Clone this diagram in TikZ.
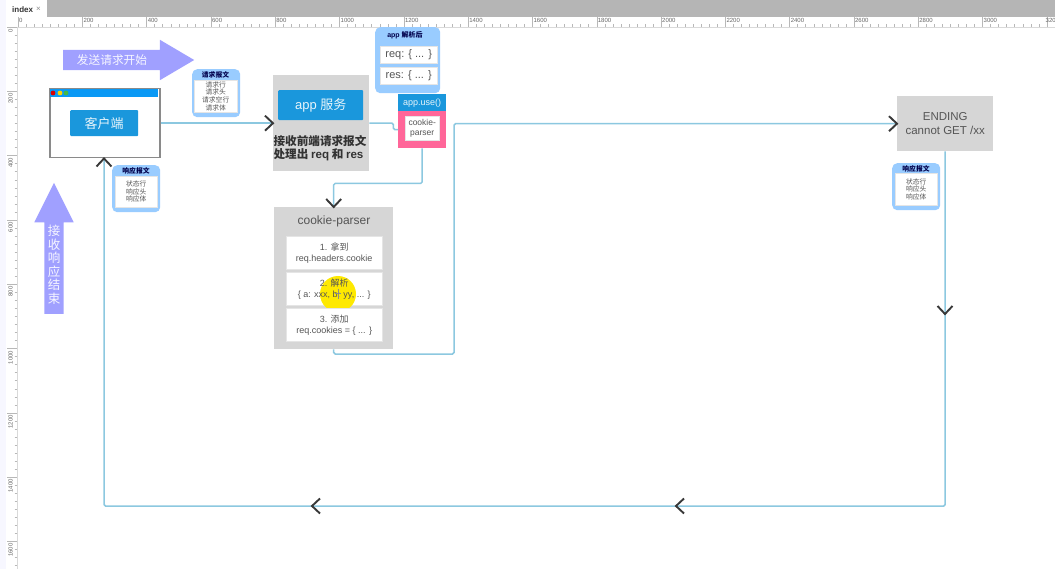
\documentclass[tikz,border=0pt]{standalone}
\usepackage{fontspec}
\setmainfont{Liberation Sans}
\newfontfamily\cjk{Noto Sans CJK SC}
\usetikzlibrary{shapes.arrows}
\definecolor{flowblue}{HTML}{8CC8E0}
\definecolor{btnblue}{HTML}{1A97DC}
\definecolor{barblue}{HTML}{0A99F5}
\definecolor{panelgray}{HTML}{D6D6D6}
\definecolor{cardblue}{HTML}{99CCFF}
\definecolor{bigarrow}{HTML}{A0A0FF}
\definecolor{pinkbox}{HTML}{FF6699}
\definecolor{textgray}{HTML}{555555}
\definecolor{rulergray}{HTML}{B8B8B8}
\definecolor{framegray}{HTML}{8A8A8A}
\newcommand{\fsz}[1]{\fontsize{#1}{#1}\selectfont}
\tikzset{
    panel/.style = {fill=panelgray, inner sep=0pt, anchor=north west},
    btn/.style = {fill=btnblue, rounded corners=1pt, text=white!90!btnblue, inner sep=0pt, anchor=north west, align=center},
    card/.style = {fill=cardblue, rounded corners=5pt, inner sep=0pt, anchor=north west},
    paper/.style = {fill=white, draw=black!10, line width=0.4pt, inner sep=0pt, anchor=north west, align=center, text=textgray},
    flow/.style = {draw=flowblue, line width=1.5pt, rounded corners=1.5pt},
    bigarr/.style = {single arrow, fill=bigarrow, inner xsep=0pt, text height=0pt, text depth=0pt, anchor=tail},
    chev/.pic = {\draw[black!78, line width=1.9pt] (-8,-7.5) -- (0,0) -- (-8,7.5);},
    tick/.style = {draw=rulergray, line width=0.4pt},
    rulertext/.style = {text=black!60, inner sep=0pt, font=\fsz{6}}
}
\begin{document}
\begin{tikzpicture}[x=1pt, y=-1pt]
    \useasboundingbox (0,0) rectangle (1055,569);
    \fill[white] (0,0) rectangle (1055,569);

    % window strip and rulers
    \fill[blue!3] (0,0) rectangle (6,569);
    \fill[black!29] (47,0) rectangle (1055,17);
    \node[anchor=west, inner sep=0pt, text=black!80, font=\fsz{8}\bfseries] (tabname) at (12,9.5) {index};
    \node[anchor=west, inner sep=0pt, text=black!45, font=\fsz{8}] (tabclose) at (36,9.5) {×};
    \draw[black!15] (17,27) -- (1055,27);
    \draw[black!15] (17,27) -- (17,569);
    \foreach \i in {0,...,15} {
        \pgfmathsetmacro{\xx}{18+64.3*\i}
        \pgfmathtruncatemacro{\val}{200*\i}
        \draw[tick] (\xx,17) -- (\xx,27);
        \node[rulertext, anchor=west] at (\xx+1,20.5) {\val};
        \foreach \j in {1,...,7} {
            \draw[tick] (\xx+8.04*\j,24.5) -- (\xx+8.04*\j,27);
        }
    }
    \draw[tick] (1046.8,17) -- (1046.8,27);
    \node[rulertext, anchor=west] (lastlabel) at (1045.5,20.5) {320};
    \foreach \i in {0,...,8} {
        \pgfmathsetmacro{\yy}{27+64.3*\i}
        \pgfmathtruncatemacro{\val}{200*\i}
        \draw[tick] (7,\yy) -- (17,\yy);
        \node[rulertext, rotate=90, anchor=east] at (10.5,\yy+2) {\val};
        \foreach \j in {1,...,7} {
            \draw[tick] (14.5,\yy+8.04*\j) -- (17,\yy+8.04*\j);
        }
    }

    % big arrows
    \node[bigarr, inner ysep=10pt, minimum height=131pt, single arrow head extend=10pt, single arrow tip angle=61] (sendarrow) at (63,60) {};
    \node[text=white!90!bigarrow, inner sep=0pt, font=\cjk\fsz{11.7}] (sendtext) at (112,60) {发送请求开始};
    \node[bigarr, rotate=90, inner ysep=9.5pt, minimum height=131pt, single arrow head extend=10pt, single arrow tip angle=53] (recvarrow) at (54,314) {};
    \node[text=white!90!bigarrow, inner sep=0pt, align=center, font=\cjk\fsz{12.5}, text width=13pt] (recvtext) at (54,265) {接\\[1pt]收\\[1pt]响\\[1pt]应\\[1pt]结\\[1pt]束};

    % client window
    \node[fill=white, draw=framegray, line width=1.5pt, inner sep=0pt, anchor=north west, minimum width=110pt, minimum height=69pt] (client) at (49,88) {};
    \fill[barblue] (49.7,88.7) rectangle (158.3,97);
    \fill[red!85!black] (53,93) circle (2.4pt);
    \fill[yellow!70!orange] (60,93) circle (2.4pt);
    \fill[green!45!gray] (66,93) circle (2.4pt);
    \node[btn, minimum width=68pt, minimum height=26pt, font=\cjk\fsz{13}] (clientbtn) at (70,110) {客户端};

    % app panel
    \node[panel, minimum width=96pt, minimum height=96pt] (app) at (273,75) {};
    \node[btn, minimum width=85pt, minimum height=30pt, font=\fsz{13}] (appbtn) at (278,90) {app {\cjk 服务}};
    \node[inner sep=0pt, align=left, text=black!80, font=\cjk\bfseries\fsz{11.6}] (apptext) at (320,148) {接收前端请求报文\\[2pt]处理出 {\rmfamily\bfseries req} 和 {\rmfamily\bfseries res}};

    % parsed card
    \node[card, minimum width=65pt, minimum height=66pt] (parsed) at (375,27) {};
    \node[inner sep=0pt, text=blue!30!black, font=\fsz{7}\bfseries] (parsedtitle) at (405,35) {app {\cjk\bfseries 解析后}};
    \node[paper, minimum width=57pt, minimum height=17pt, font=\fsz{11}] (reqbox) at (380,46) {req: \{ ... \}};
    \node[paper, minimum width=57pt, minimum height=17pt, font=\fsz{11}] (resbox) at (380,67) {res: \{ ... \}};

    % app.use
    \node[btn, rounded corners=0pt, minimum width=48pt, minimum height=17pt, font=\fsz{9}] (use) at (398,94) {app.use()};
    \node[fill=pinkbox, inner sep=0pt, anchor=north west, minimum width=48pt, minimum height=37pt] (pink) at (398,111) {};
    \node[paper, minimum width=34pt, minimum height=24pt, font=\fsz{8.5}] (cookiebox) at (405,116) {cookie-\\[1.5pt]parser};

    % cookie-parser panel
    \node[panel, minimum width=119pt, minimum height=142pt] (parser) at (274,207) {};
    \node[inner sep=0pt, text=textgray, font=\fsz{12}] (parsertitle) at (334,221) {cookie-parser};
    \node[paper, minimum width=96pt, minimum height=33pt, font=\fsz{9}] (stepa) at (286,236) {1. {\cjk 拿到}\\[2pt]req.headers.cookie};
    \node[paper, minimum width=96pt, minimum height=33pt] (stepb) at (286,272) {};
    \fill[yellow!92!orange] (338,294) circle (18pt);
    \node[inner sep=0pt, align=center, text=textgray, font=\fsz{9}] (stepbtext) at (stepb) {2. {\cjk 解析}\\[2pt]\{ a: xxx, b: yy, ... \}};
    \draw[black!45, line width=1pt] (338,289) -- (338,299) (335,294) -- (341,294);
    \node[paper, minimum width=96pt, minimum height=33pt, font=\fsz{9}] (stepc) at (286,308) {3. {\cjk 添加}\\[2pt]req.cookies = \{ ... \}};

    % ending
    \node[panel, minimum width=96pt, minimum height=55pt, align=center, text=textgray, font=\fsz{11.5}] (ending) at (897,96) {ENDING\\[2pt]cannot GET /xx};

    % small cards
    \node[card, minimum width=48pt, minimum height=48pt] (reqcard) at (192,69) {};
    \node[inner sep=0pt, text=blue!30!black, font=\cjk\bfseries\fsz{6.8}] (reqtitle) at (215.5,75) {请求报文};
    \node[paper, minimum width=43pt, minimum height=32pt, font=\cjk\fsz{6.8}] (reqlines) at (194,80) {请求行\\[0.9pt]请求头\\[0.9pt]请求空行\\[0.9pt]请求体};
    \node[card, minimum width=48pt, minimum height=47pt] (backcard) at (112,165) {};
    \node[inner sep=0pt, text=blue!30!black, font=\cjk\bfseries\fsz{6.8}] (backtitle) at (136,171) {响应报文};
    \node[paper, minimum width=42pt, minimum height=31pt, font=\cjk\fsz{6.8}] (backlines) at (115,176) {状态行\\[0.9pt]响应头\\[0.9pt]响应体};
    \node[card, minimum width=48pt, minimum height=47pt] (endcard) at (892,163) {};
    \node[inner sep=0pt, text=blue!30!black, font=\cjk\bfseries\fsz{6.8}] (endtitle) at (916,169) {响应报文};
    \node[paper, minimum width=42pt, minimum height=32pt, font=\cjk\fsz{6.8}] (endlines) at (895,173) {状态行\\[0.9pt]响应头\\[0.9pt]响应体};

    % connectors
    \coordinate (corner) at (104,506);
    \coordinate (turn) at (454,354);
    \path[flow] (client.east |- app.west) -- (app.west);
    \path[flow] (app.east) -- ++(24,0) |- (pink.west);
    \path[flow] (pink.south) -- ++(0,35) -| (parser.north);
    \path[flow] (parser.south) |- (turn) |- (ending.west);
    \path[flow] (ending.south) |- (corner) -- (client.south -| corner);

    % chevrons on the lines
    \coordinate (mida) at (945,314);
    \coordinate (midb) at (676,506);
    \coordinate (midc) at (312,506);
    \pic at (app.west) {chev};
    \pic at (ending.west) {chev};
    \pic[rotate=-90] at (parser.north) {chev};
    \pic[rotate=90] at (client.south -| corner) {chev};
    \pic[rotate=-90] at (mida) {chev};
    \pic[rotate=180] at (midb) {chev};
    \pic[rotate=180] at (midc) {chev};
\end{tikzpicture}
\end{document}
